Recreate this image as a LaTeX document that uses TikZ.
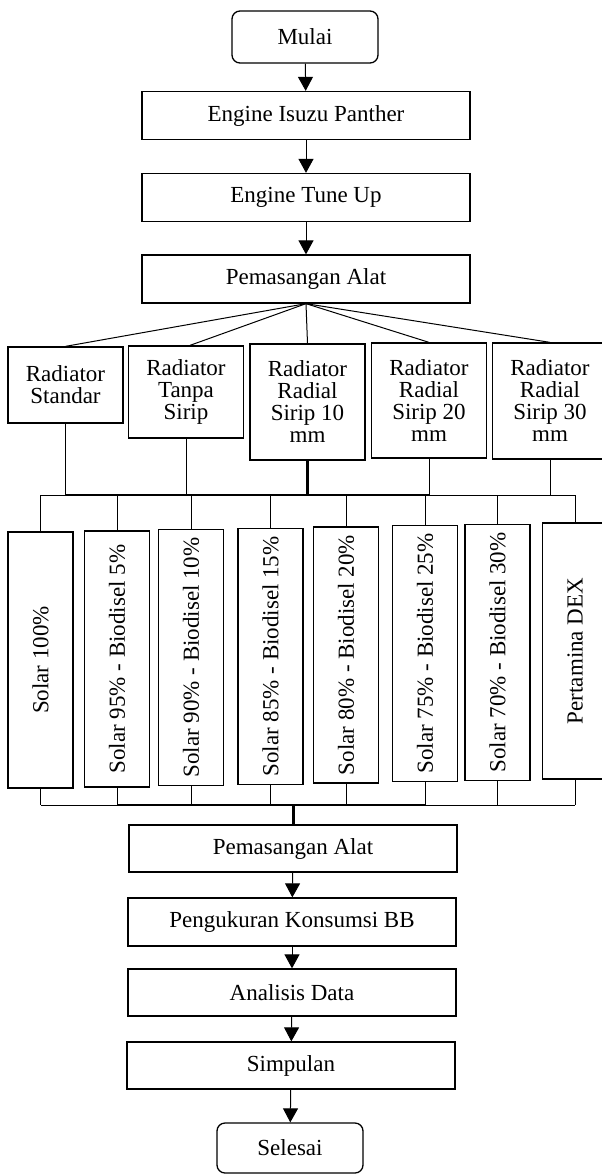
\documentclass[tikz,border=0pt]{standalone}
\usepackage{fontspec}
\setmainfont{Liberation Serif}
\usetikzlibrary{arrows.meta}
\tikzset{
  box/.style={draw, line width=0.65pt, minimum width=164pt, minimum height=24pt, inner sep=1pt},
  terminal/.style={draw, line width=0.65pt, rounded corners=4pt, minimum width=73pt, minimum height=26pt},
  radbox/.style={draw, line width=0.65pt, minimum width=57.5pt, align=center, inner sep=0pt,
    font=\fontsize{11.5}{11}\selectfont},
  fuelbox/.style={draw, line width=0.65pt, rotate=90, minimum width=128pt, minimum height=32.5pt, inner sep=0pt},
  flow/.style={line width=0.5pt, -{Triangle[width=7.5pt,length=7pt]}},
  link/.style={line width=0.5pt},
  heavy/.style={line width=1.5pt}
}
\begin{document}
\begin{tikzpicture}[x=0.5pt, y=-0.5pt, font=\fontsize{11.5}{13}\selectfont]
  \useasboundingbox (0,0) rectangle (601,1174);
% top
  \node [terminal] (mulai) at (305,37) {Mulai};
  \node [box] (engine) at (306,115.5) {Engine Isuzu Panther};
  \node [box] (tuneup) at (306,197.5) {Engine Tune Up};
  \node [box] (pasang) at (306,279) {Pemasangan Alat};

  \draw [flow] (mulai) -- (engine);
  \draw [flow] (engine) -- (tuneup);
  \draw [flow] (tuneup) -- (pasang);

% radiators
  \node [radbox, minimum height=38pt] (rstd) at (65.5,385) {Radiator\\Standar};
  \node [radbox, minimum height=46pt] (rtanpa) at (186,392) {Radiator\\Tanpa\\Sirip};
  \node [radbox, minimum height=58pt] (rten) at (307.5,402) {Radiator\\Radial\\Sirip 10\\mm};
  \node [radbox, minimum height=57.5pt] (rtwenty) at (429,400.5) {Radiator\\Radial\\Sirip 20\\mm};
  \node [radbox, minimum height=58pt] (rthirty) at (550,401) {Radiator\\Radial\\Sirip 30\\mm};

  \draw [link] (pasang.south) -- (rstd.north);
  \draw [link] (pasang.south) -- ([xshift=2pt]rtanpa.north);
  \draw [link] (pasang.south) -- (rten.north);
  \draw [link] (pasang.south) -- (rtwenty.north);
  \draw [link] (pasang.south) -- (rthirty.north);

% upper bus
  \coordinate (busA) at (41,495);
  \coordinate (busB) at (575,495);
  \draw [link] (busA) -- (busB);
  \draw [line width=1pt] (rstd.south |- busA) -- (rtwenty.south |- busA);
  \draw [link] (rstd.south) -- (rstd.south |- busA);
  \draw [link] (rtanpa.south) -- (rtanpa.south |- busA);
  \draw [heavy] (rten.south) -- (rten.south |- busA);
  \draw [link] (rtwenty.south) -- (rtwenty.south |- busA);
  \draw [link] (rthirty.south) -- (rthirty.south |- busA);

% fuels
  \node [fuelbox] (fa) at (40.5,660) {Solar 100\%};
  \node [fuelbox] (fb) at (117,659) {Solar 95\% - Biodisel 5\%};
  \node [fuelbox] (fc) at (191,657.5) {Solar 90\% - Biodisel 10\%};
  \node [fuelbox] (fd) at (270.5,656.5) {Solar 85\% - Biodisel 15\%};
  \node [fuelbox] (fe) at (346,655) {Solar 80\% - Biodisel 20\%};
  \node [fuelbox] (ff) at (425,653.5) {Solar 75\% - Biodisel 25\%};
  \node [fuelbox] (fg) at (497.5,652.5) {Solar 70\% - Biodisel 30\%};
  \node [fuelbox] (fh) at (575,651) {Pertamina DEX};

  \draw [link] (fa.east |- busA) -- (fa.east);
  \draw [link] (fb.east |- busA) -- (fb.east);
  \draw [link] (fc.east |- busA) -- (fc.east);
  \draw [link] (fd.east |- busA) -- (fd.east);
  \draw [link] (fe.east |- busA) -- (fe.east);
  \draw [link] (ff.east |- busA) -- (ff.east);
  \draw [link] (fg.east |- busA) -- (fg.east);
  \draw [link] (fh.east |- busA) -- (fh.east);

% lower bus
  \coordinate (busC) at (41,805);
  \coordinate (busD) at (575,805);
  \draw [link] (busC) -- (busD);
  \draw [line width=1pt] (fb.west |- busC) -- (ff.west |- busC);
  \draw [link] (fa.west) -- (fa.west |- busC);
  \draw [link] (fb.west) -- (fb.west |- busC);
  \draw [link] (fc.west) -- (fc.west |- busC);
  \draw [link] (fd.west) -- (fd.west |- busC);
  \draw [link] (fe.west) -- (fe.west |- busC);
  \draw [link] (ff.west) -- (ff.west |- busC);
  \draw [link] (fg.west) -- (fg.west |- busC);
  \draw [link] (fh.west) -- (fh.west |- busC);

% bottom
  \node [box, minimum height=23.5pt] (pasangb) at (293,848.5) {Pemasangan Alat};
  \node [box] (ukur) at (292,922) {Pengukuran Konsumsi BB};
  \node [box, minimum height=23.5pt] (analisis) at (292,992.5) {Analisis Data};
  \node [box, minimum height=23.5pt] (simpulan) at (291,1065.5) {Simpulan};
  \node [terminal, minimum height=25pt] (selesai) at (290,1148) {Selesai};

  \draw [heavy] (pasangb.north |- busC) -- (pasangb.north);
  \draw [flow] (pasangb) -- (ukur);
  \draw [flow] (ukur) -- (analisis);
  \draw [flow] (analisis) -- (simpulan);
  \draw [flow] (simpulan) -- (selesai);
\end{tikzpicture}
\end{document}
